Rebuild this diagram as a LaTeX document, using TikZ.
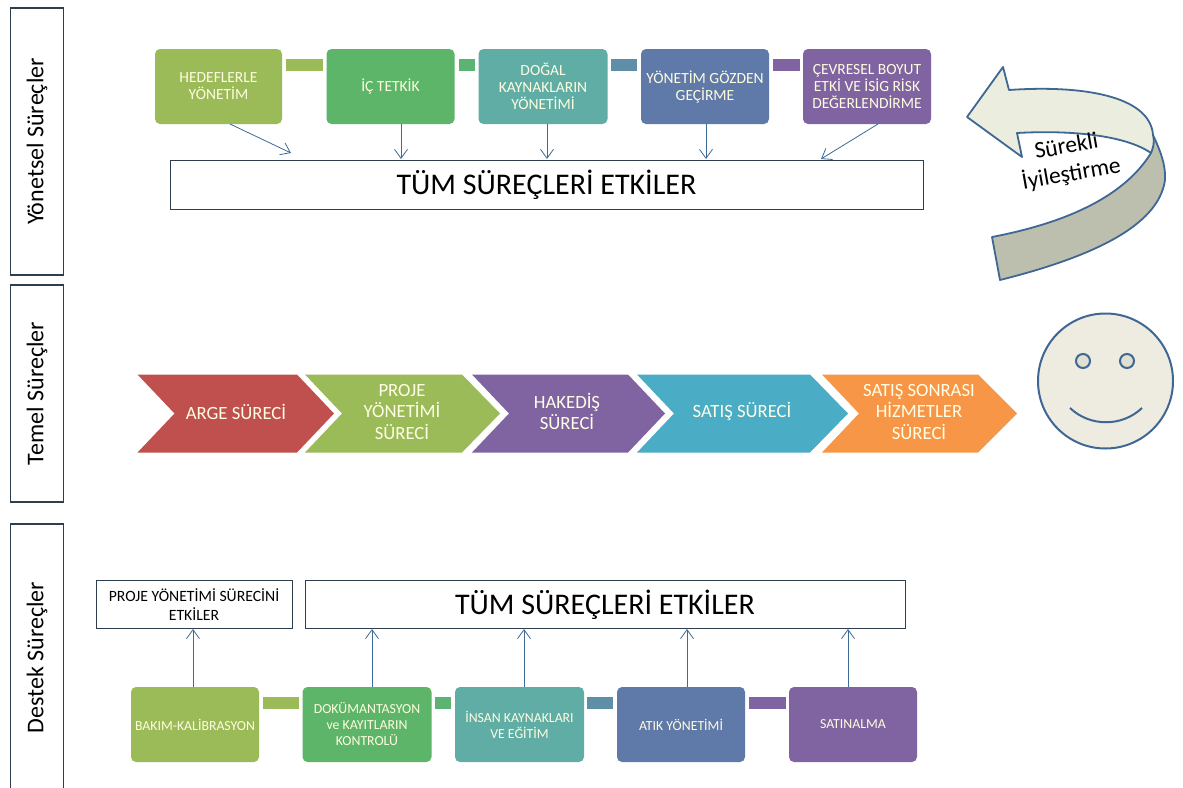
\documentclass[tikz,border=0pt]{standalone}
\usepackage{fontspec}
\setmainfont{Carlito}
\usetikzlibrary{arrows.meta}
\definecolor{cA}{HTML}{9BBB59}
\definecolor{cB}{HTML}{5CB568}
\definecolor{cC}{HTML}{5FADA5}
\definecolor{cD}{HTML}{5F79A9}
\definecolor{cE}{HTML}{8064A2}
\definecolor{cR}{HTML}{C0504D}
\definecolor{cT}{HTML}{4BACC6}
\definecolor{cO}{HTML}{F79646}
\definecolor{cLine}{HTML}{3E6A96}
\definecolor{cDark}{HTML}{2F3E4E}
\definecolor{cPale}{HTML}{EBEDDF}
\definecolor{cGrey}{HTML}{BDBFAE}
\definecolor{cFace}{HTML}{EEECE1}
\definecolor{cBlue}{HTML}{3F6793}
\tikzset{
 x=1pt,y=-1pt,
 panel/.style={draw=cDark,line width=1.2pt,fill=white,minimum height=53pt,inner sep=0pt,rotate=90,anchor=center,font=\fontsize{24}{28}\selectfont},
 pbox/.style={rounded corners=5pt,text=white!88!yellow,align=center,inner sep=0pt,minimum height=75pt,font=\fontsize{15.5}{17}\selectfont},
 lbox/.style={rounded corners=5pt,text=white!88!yellow,align=center,inner sep=0pt,minimum height=75pt,font=\fontsize{13.8}{16}\selectfont},
 bar/.style={inner sep=0pt,minimum height=12pt},
 wbox/.style={draw=cDark,line width=1pt,fill=white,align=center,inner sep=0pt},
 link/.style={draw=cLine,line width=.8pt,-{Straight Barb[length=9pt,width=13pt]}},
 chev/.style={text=white!90!yellow,align=center,font=\fontsize{18.7}{21.5}\selectfont},
}
% #1 left x, #2 right-shoulder x, #3 tip x, #4 colour, #5 name, #6 text centre x, #7 text
\newcommand{\chevron}[7]{%
 \fill[#4] (#1,374.5) -- (#2,374.5) -- (#3,413.5) -- (#2,452.5) -- (#1,452.5) -- (#1+37,413.5) -- cycle;
 \node[chev] (#5) at (#6,411.5) {#7};}
\begin{document}
\begin{tikzpicture}
\useasboundingbox (0,0) rectangle (1183,787);
\fill[white] (0,0) rectangle (1183,787);
% panels
\node[panel,minimum width=267pt] (p1) at (37,141.5) {Yönetsel Süreçler};
\node[panel,minimum width=217pt] (p2) at (37,393.5) {Temel Süreçler};
\node[panel,minimum width=267pt] (p3) at (37,657.5) {Destek Süreçler};
% top row
\node[pbox,fill=cA,minimum width=127pt] (a1) at (218.5,86.5) {HEDEFLERLE\\YÖNETİM};
\node[pbox,fill=cB,minimum width=128pt] (a2) at (390.5,86.5) {İÇ TETKİK};
\node[pbox,fill=cC,minimum width=129pt] (a3) at (543,86.5) {DOĞAL\\KAYNAKLARIN\\YÖNETİMİ};
\node[pbox,fill=cD,minimum width=128pt] (a4) at (705,86.5) {YÖNETİM GÖZDEN\\GEÇİRME};
\node[pbox,fill=cE,minimum width=128pt] (a5) at (867,86.5) {ÇEVRESEL BOYUT\\ETKİ VE İSİG RİSK\\DEĞERLENDİRME};
\node[bar,fill=cA,minimum width=37pt] (b1) at (304.5,65) {};
\node[bar,fill=cB!80!cC,minimum width=16pt] (b2) at (467,65) {};
\node[bar,fill=cC!40!cD,minimum width=26pt] (b3) at (624,65) {};
\node[bar,fill=cE,minimum width=27pt] (b4) at (786,65) {};
\node[wbox,minimum width=753pt,minimum height=49pt,font=\fontsize{30}{34}\selectfont] (t1) at (546.5,184.5) {TÜM SÜREÇLERİ ETKİLER};
\coordinate (t1a) at (291,153);
\coordinate (t1b) at (401,159);
\coordinate (t1c) at (547,159);
\coordinate (t1d) at (706,159);
\coordinate (t1e) at (821,159);
\coordinate (a1s) at (230,124);
\coordinate (a2s) at (401,124);
\coordinate (a3s) at (547,124);
\coordinate (a4s) at (706,124);
\coordinate (a5s) at (878,124);
\draw[link] (a1s) -- (t1a);
\draw[link] (a2s) -- (t1b);
\draw[link] (a3s) -- (t1c);
\draw[link] (a4s) -- (t1d);
\draw[link] (a5s) -- (t1e);
% curved arrow
\filldraw[draw=cBlue,line width=1.8pt,fill=cGrey,line join=round]
  (1153,135) .. controls (1160,150) and (1166,165) .. (1165,180)
  .. controls (1160,215) and (1120,250) .. (1000,280)
  -- (992,237) .. controls (1070,222) and (1125,195) .. (1151,153) -- cycle;
\filldraw[draw=cBlue,line width=1.8pt,fill=cPale,line join=round]
  (967,117) -- (1003,67) -- (1009,90)
  .. controls (1080,85) and (1150,95) .. (1153,135)
  .. controls (1155,142) and (1153,148) .. (1151,153)
  .. controls (1125,135) and (1070,130) .. (1017,133)
  -- (1022,157) -- cycle;
\node[rotate=10,align=center,font=\fontsize{23.5}{28}\selectfont,inner sep=0pt] (sur) at (1069,161) {Sürekli\\İyileştirme};
% chevrons
\chevron{137.5}{297}{334}{cR}{c1}{236}{ARGE SÜRECİ}
\chevron{305}{462}{500}{cA}{c2}{402}{PROJE\\YÖNETİMİ\\SÜRECİ}
\chevron{472}{628}{665}{cE}{c3}{567}{HAKEDİŞ\\SÜRECİ}
\chevron{637}{810}{848}{cT}{c4}{742}{SATIŞ SÜRECİ}
\chevron{822}{978}{1017}{cO}{c5}{919}{SATIŞ SONRASI\\HİZMETLER\\SÜRECİ}
% smiley
\node[circle,draw=cBlue,line width=2pt,fill=cFace,minimum size=135pt,inner sep=0pt] (face) at (1105.5,381) {};
\node[circle,draw=cBlue,line width=2pt,fill=cFace!70!cGrey,minimum size=14pt,inner sep=0pt] (e1) at (1083,361) {};
\node[circle,draw=cBlue,line width=2pt,fill=cFace!70!cGrey,minimum size=14pt,inner sep=0pt] (e2) at (1127,361) {};
\draw[draw=cBlue,line width=2pt] (1070,408) .. controls (1090,427) and (1122,427) .. (1142,408);
% bottom row
\node[wbox,minimum width=196pt,minimum height=48pt,font=\fontsize{15.7}{19}\selectfont] (t2) at (194,604.5) {PROJE YÖNETİMİ SÜRECİNİ\\ETKİLER};
\node[wbox,minimum width=600pt,minimum height=48pt,font=\fontsize{30}{34}\selectfont] (t3) at (605,604.5) {TÜM SÜREÇLERİ ETKİLER};
\node[lbox,fill=cA,minimum width=128pt] (d1) at (195,724.5) {BAKIM-KALİBRASYON};
\node[lbox,fill=cB,minimum width=129pt] (d2) at (367,724.5) {DOKÜMANTASYON\\ve KAYITLARIN\\KONTROLÜ};
\node[lbox,fill=cC,minimum width=129pt] (d3) at (519.5,724.5) {İNSAN KAYNAKLARI\\VE EĞİTİM};
\node[lbox,fill=cD,minimum width=128pt] (d4) at (681,724.5) {ATIK YÖNETİMİ};
\node[lbox,fill=cE,minimum width=128pt] (d5) at (853,724.5) {SATINALMA};
\node[bar,fill=cA,minimum width=36pt] (g1) at (281,703) {};
\node[bar,fill=cB!80!cC,minimum width=16pt] (g2) at (443,703) {};
\node[bar,fill=cC!40!cD,minimum width=26pt] (g3) at (600,703) {};
\node[bar,fill=cE,minimum width=37pt] (g4) at (767,703) {};
\draw[link] (d1.north -| 193,0) -- (t2.south -| 193,0);
\draw[link] (d2.north -| 372,0) -- (t3.south -| 372,0);
\draw[link] (d3.north -| 524,0) -- (t3.south -| 524,0);
\draw[link] (d4.north -| 687,0) -- (t3.south -| 687,0);
\draw[link] (d5.north -| 848,0) -- (t3.south -| 848,0);
\end{tikzpicture}
\end{document}
